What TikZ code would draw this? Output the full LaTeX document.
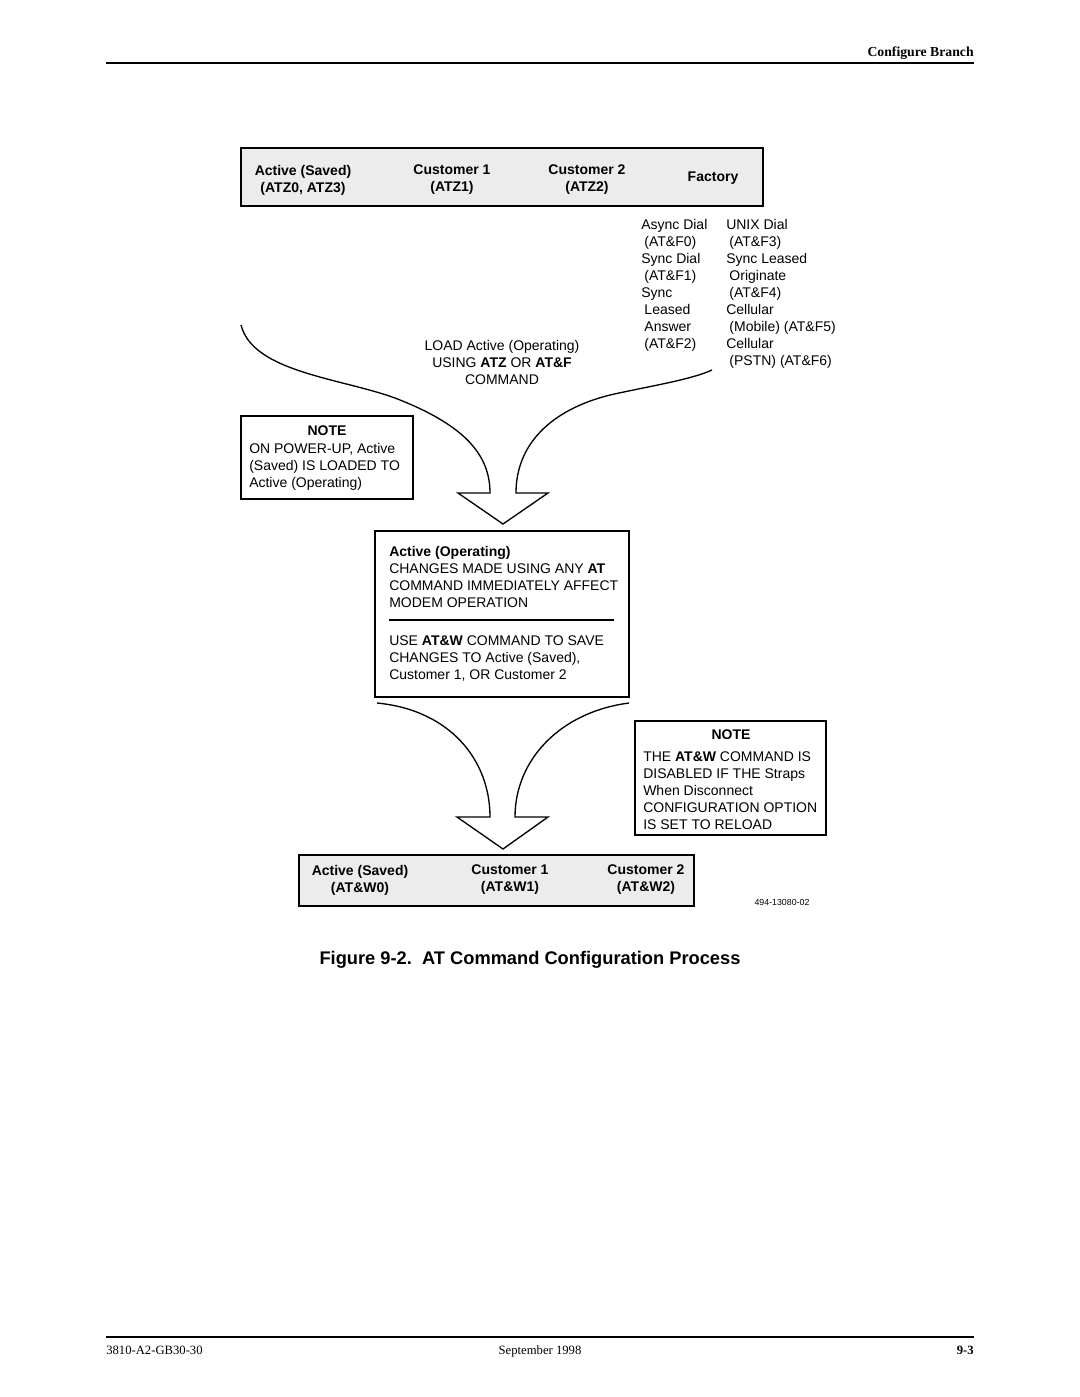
\documentclass[tikz,border=0pt]{standalone}
\usepackage{fontspec}
\setmainfont{Liberation Sans}
\newfontfamily\serifhdr{Liberation Serif}
\newcommand\fs{\fontsize{10.5}{12.75}\selectfont}
\newcommand\ind{\hspace*{2.4pt}}
\definecolor{tablegray}{RGB}{236,236,236}
\tikzset{
  px/.style={x=0.75pt,y=-0.75pt},
  txtl/.style={font=\fs, align=left, inner sep=0pt, anchor=north west},
  txtc/.style={font=\fs\bfseries, align=center, inner sep=0pt},
  tablebox/.style={draw, line width=1.6pt, fill=tablegray, inner sep=0pt},
  notebox/.style={draw, line width=1pt, inner sep=0pt},
  opbox/.style={draw, line width=1.5pt, inner sep=0pt},
  flow/.style={line width=1pt, line join=miter},
  rulex/.style={line width=1.1pt}
}
\begin{document}
\begin{tikzpicture}[px]
\useasboundingbox (0,0) rectangle (1080,1397);
% header / footer
\coordinate (hl) at (106,63); \coordinate (hr) at (974,63);
\draw[rulex] (hl) -- (hr);
\node[anchor=base east, inner sep=0pt, font=\serifhdr\fontsize{10.3}{12}\selectfont\bfseries] (hdr) at (974,56) {Configure Branch};
\coordinate (fl) at (106,1337); \coordinate (fr) at (974,1337);
\draw[rulex] (fl) -- (fr);
\node[anchor=base west, inner sep=0pt, font=\serifhdr\fontsize{9.5}{12}\selectfont] (f1) at (106,1354) {3810-A2-GB30-30};
\node[anchor=base, inner sep=0pt, font=\serifhdr\fontsize{9.5}{12}\selectfont] (f2) at (540,1354) {September 1998};
\node[anchor=base east, inner sep=0pt, font=\serifhdr\fontsize{9.5}{12}\selectfont\bfseries] (f3) at (974,1354) {9-3};

% top table
\path[tablebox] (241,148) rectangle (763,206);
\node[txtc] (as) at (303,180) {Active (Saved)\\(ATZ0, ATZ3)};
\node[txtc] (c1) at (452,180) {Customer 1\\(ATZ1)};
\node[txtc] (c2) at (587,180) {Customer 2\\(ATZ2)};
\node[txtc] (fac) at (713,178) {Factory};

% factory list
\node[txtl] (facl) at (641,219) {Async Dial\\\ind(AT\&F0)\\Sync Dial\\\ind(AT\&F1)\\Sync\\\ind Leased\\\ind Answer\\\ind(AT\&F2)};
\node[txtl] (facr) at (726,219) {UNIX Dial\\\ind(AT\&F3)\\Sync Leased\\\ind Originate\\\ind(AT\&F4)\\Cellular\\\ind(Mobile) (AT\&F5)\\Cellular\\\ind(PSTN) (AT\&F6)};

% load text
\node[font=\fs, align=center, inner sep=0pt, anchor=north] (load) at (502,340) {LOAD Active (Operating)\\USING \textbf{ATZ} OR \textbf{AT\&F}\\COMMAND};

% upper merging arrow
\coordinate (ul0) at (241,325);
\coordinate (ul1) at (395,398);
\coordinate (ul2) at (490,493);
\coordinate (ur0) at (712,370);
\coordinate (ur1) at (610,395);
\coordinate (ur2) at (516,493);
\draw[flow] (ul0) .. controls (253,372) and (340,378) .. (ul1) .. controls (465,425) and (490,455) .. (ul2)
  -- (458,493) -- (503,524) -- (548,493) -- (ur2)
  .. controls (516,445) and (550,410) .. (ur1) .. controls (650,386) and (690,380) .. (ur0);

% note 1
\path[notebox] (241,416) rectangle (413,499);
\node[font=\fs\bfseries, inner sep=0pt] (n1t) at (327,431) {NOTE};
\node[txtl] (n1) at (249,443) {ON POWER-UP, Active\\(Saved) IS LOADED TO\\Active (Operating)};

% active operating box
\path[opbox] (375,531) rectangle (629,697);
\node[txtl] (op1) at (389,546) {\textbf{Active (Operating)}\\CHANGES MADE USING ANY \textbf{AT}\\COMMAND IMMEDIATELY AFFECT\\MODEM OPERATION};
\coordinate (rl) at (389,620); \coordinate (rr) at (614,620);
\draw[line width=1.1pt] (rl) -- (rr);
\node[txtl] (op2) at (389,635) {USE \textbf{AT\&W} COMMAND TO SAVE\\CHANGES TO Active (Saved),\\Customer 1, OR Customer 2};

% lower merging arrow
\coordinate (ll0) at (377,703);
\coordinate (ll1) at (490,817);
\coordinate (lr0) at (629,703);
\coordinate (lr1) at (515,817);
\draw[flow] (ll0) .. controls (450,710) and (490,760) .. (ll1)
  -- (457,817) -- (503,849) -- (548,817) -- (lr1)
  .. controls (515,760) and (560,712) .. (lr0);

% note 2
\path[notebox] (635,721) rectangle (826,835);
\node[font=\fs\bfseries, inner sep=0pt] (n2t) at (731,735) {NOTE};
\node[txtl] (n2) at (643,751) {THE \textbf{AT\&W} COMMAND IS\\DISABLED IF THE Straps\\When Disconnect\\CONFIGURATION OPTION\\IS SET TO RELOAD};

% bottom table
\path[tablebox] (299,855) rectangle (694,906);
\node[txtc] (bas) at (360,880) {Active (Saved)\\(AT\&W0)};
\node[txtc] (bc1) at (510,880) {Customer 1\\(AT\&W1)};
\node[txtc] (bc2) at (646,880) {Customer 2\\(AT\&W2)};

\node[font=\fontsize{6.6}{8}\selectfont, inner sep=0pt] (code) at (782,902) {494-13080-02};

% title
\node[font=\fontsize{13.7}{16}\selectfont\bfseries, inner sep=0pt] (title) at (530,960) {Figure 9-2.\ \ AT Command Configuration Process};
\end{tikzpicture}
\end{document}
